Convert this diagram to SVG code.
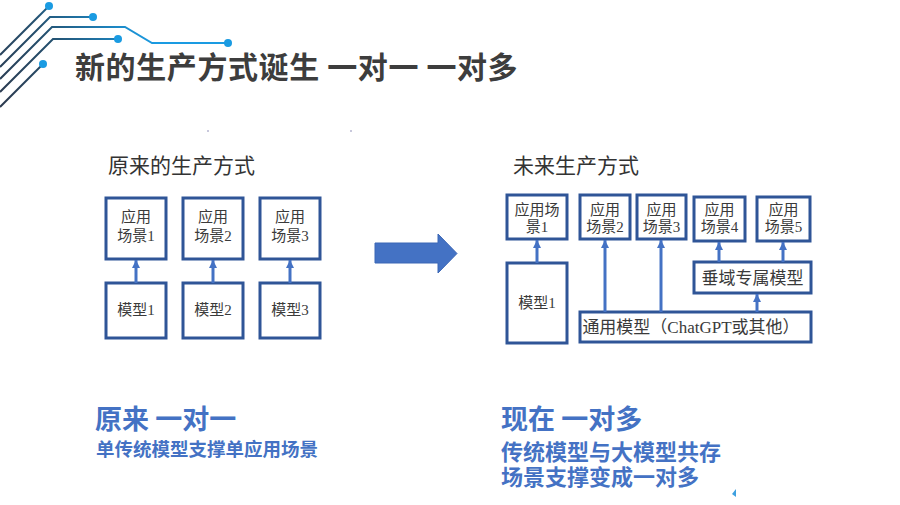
<svg xmlns="http://www.w3.org/2000/svg" width="900" height="505" viewBox="0 0 900 505">
<defs>
  <linearGradient id="deco" gradientUnits="userSpaceOnUse" x1="0" y1="100" x2="120" y2="0">
    <stop offset="0" stop-color="#2b3a4f"/>
    <stop offset="0.5" stop-color="#24506f"/>
    <stop offset="1" stop-color="#1a9be2"/>
  </linearGradient>
  <marker id="ah" markerUnits="userSpaceOnUse" markerWidth="10" markerHeight="10" refX="8" refY="5" orient="auto">
    <path d="M0,1 L8,5 L0,9 Z" fill="#4472C4"/>
  </marker>
  <style>
    .box{fill:#fff;stroke:#2F5597;stroke-width:3}
    .t{font-family:"Liberation Serif","Noto Sans CJK SC",serif;fill:#3a3a3a;text-anchor:middle}
    .s15{font-size:15px}
    .s17{font-size:17px}
    .conn line{stroke:#4472C4;stroke-width:3;marker-end:url(#ah)}
    .h{font-family:"Noto Sans CJK SC","Liberation Serif",serif;fill:#333;font-size:21px}
    .blue{font-family:"Noto Sans CJK SC",sans-serif;font-weight:bold;fill:#4472C4}
    .deco{fill:none;stroke:url(#deco);stroke-width:2}
    .dot{fill:#1a9be2}
  </style>
</defs>
<rect width="900" height="505" fill="#fff"/>

<!-- decoration -->
<g id="decoration">
  <path class="deco" d="M48,7 L0,55"/>
  <path class="deco" d="M93,17 L50,17 L0,67"/>
  <path class="deco" d="M228,43 L152,43 L125,27 L52,27 L0,79"/>
  <path class="deco" d="M118,39 L53,39 L0,92"/>
  <path class="deco" d="M43,64 L0,107"/>
  <circle class="dot" cx="49" cy="6" r="4"/>
  <circle class="dot" cx="93" cy="17" r="4"/>
  <circle class="dot" cx="228" cy="43" r="4"/>
  <circle class="dot" cx="118" cy="39" r="4"/>
  <circle class="dot" cx="43" cy="64" r="4"/>
</g>

<text x="75" y="78" font-family="'Noto Sans CJK SC',sans-serif" font-weight="bold" font-size="30" letter-spacing="0.6" fill="#3d3d3d">新的生产方式诞生 一对一 一对多</text>

<rect x="207" y="130" width="2" height="2" fill="#c8c8dc"/>
<rect x="350" y="130" width="2" height="2" fill="#c8c8dc"/>
<path d="M736,489 L736,497 L732,494 Z" fill="#3da0e0"/>

<!-- left section -->
<text class="h" x="108" y="173">原来的生产方式</text>

<g id="L_S1"><rect class="box" x="106" y="198" width="60" height="61"/><text class="t s15" x="136" y="222">应用</text><text class="t s15" x="136" y="241">场景1</text></g>
<g id="L_S2"><rect class="box" x="183" y="198" width="60" height="61"/><text class="t s15" x="213" y="222">应用</text><text class="t s15" x="213" y="241">场景2</text></g>
<g id="L_S3"><rect class="box" x="260" y="198" width="60" height="61"/><text class="t s15" x="290" y="222">应用</text><text class="t s15" x="290" y="241">场景3</text></g>
<g id="L_M1"><rect class="box" x="106" y="283" width="60" height="55"/><text class="t s15" x="136" y="315">模型1</text></g>
<g id="L_M2"><rect class="box" x="183" y="283" width="60" height="55"/><text class="t s15" x="213" y="315">模型2</text></g>
<g id="L_M3"><rect class="box" x="260" y="283" width="60" height="55"/><text class="t s15" x="290" y="315">模型3</text></g>

<!-- big arrow -->
<g id="bigArrow">
  <path d="M375,243 L438,243 L438,234 L457,253.5 L438,273 L438,263 L375,263 Z" fill="#4472C4" stroke="#3b66b5" stroke-width="1"/>
</g>

<!-- right section -->
<text class="h" x="513" y="173">未来生产方式</text>

<g id="R_S1"><rect class="box" x="507" y="195" width="60" height="44"/><text class="t s15" x="537" y="215">应用场</text><text class="t s15" x="537" y="232">景1</text></g>
<g id="R_S2"><rect class="box" x="580" y="195" width="50" height="44"/><text class="t s15" x="605" y="215">应用</text><text class="t s15" x="605" y="232">场景2</text></g>
<g id="R_S3"><rect class="box" x="637" y="195" width="49" height="44"/><text class="t s15" x="661.5" y="215">应用</text><text class="t s15" x="661.5" y="232">场景3</text></g>
<g id="R_S4"><rect class="box" x="694" y="197" width="51" height="44"/><text class="t s15" x="719.5" y="215">应用</text><text class="t s15" x="719.5" y="232">场景4</text></g>
<g id="R_S5"><rect class="box" x="757" y="197" width="53" height="44"/><text class="t s15" x="783.5" y="215">应用</text><text class="t s15" x="783.5" y="232">场景5</text></g>
<g id="R_M1"><rect class="box" x="507" y="263" width="60" height="80"/><text class="t s15" x="537" y="308">模型1</text></g>
<g id="R_V"><rect class="box" x="694" y="262" width="117" height="31"/><text class="t s17" x="752.5" y="283.5">垂域专属模型</text></g>
<g id="R_G"><rect class="box" x="580" y="312" width="231" height="30"/><text class="t s17" x="691" y="333">通用模型（ChatGPT或其他）</text></g>

<g id="connectors" class="conn">
  <line x1="136" y1="283" x2="136" y2="260"/>
  <line x1="213" y1="283" x2="213" y2="260"/>
  <line x1="290" y1="283" x2="290" y2="260"/>
  <line x1="537" y1="263" x2="537" y2="240"/>
  <line x1="605" y1="312" x2="605" y2="240"/>
  <line x1="661" y1="312" x2="661" y2="240"/>
  <line x1="757" y1="312" x2="757" y2="294"/>
  <line x1="719" y1="262" x2="719" y2="242"/>
  <line x1="783" y1="262" x2="783" y2="242"/>
</g>

<!-- bottom texts -->
<text class="blue" x="95" y="429" font-size="27">原来 一对一</text>
<text class="blue" x="96" y="456" font-size="18.5">单传统模型支撑单应用场景</text>
<text class="blue" x="501" y="429" font-size="27">现在 一对多</text>
<text class="blue" x="501" y="460" font-size="22">传统模型与大模型共存</text>
<text class="blue" x="501" y="485" font-size="22">场景支撑变成一对多</text>
</svg>
